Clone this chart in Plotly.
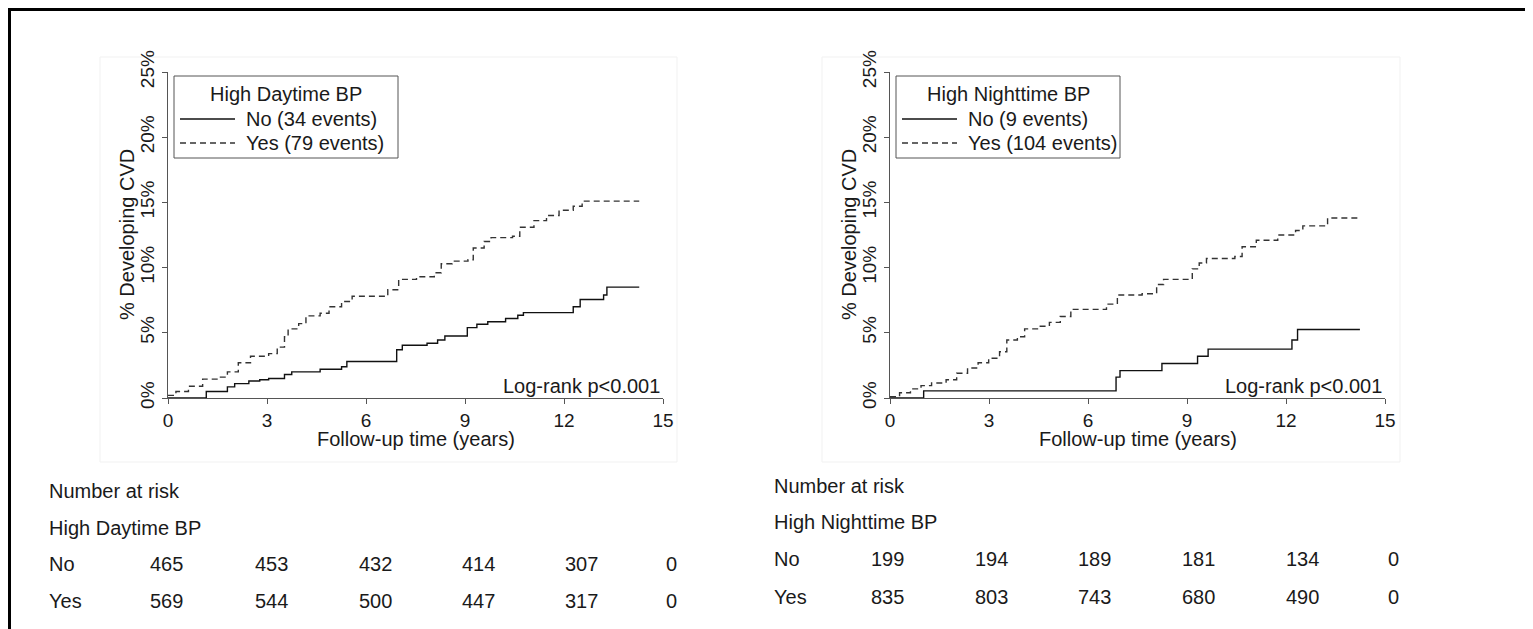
import plotly.graph_objects as go

W, H = 1533, 629
OFF = 8  # page body margin of the rendered html
FONT = "Liberation Sans, Arial, sans-serif"
TXT = "#1a1a1a"
AX = "#555555"

# ---------------- data ----------------
day_no_t = [0, 1.16, 1.80, 2.02, 2.45, 2.78, 3.05, 3.53, 3.75, 4.61, 5.26, 5.42, 6.93, 7.10, 7.85, 8.17, 8.39,
            9.07, 9.36, 9.69, 10.23, 10.60, 10.77, 12.28, 12.49, 13.20, 13.30, 14.28]
day_no_v = [0, 0.5, 0.85, 1.1, 1.3, 1.4, 1.5, 1.8, 2.0, 2.2, 2.4, 2.8, 3.7, 4.05, 4.2, 4.45, 4.75,
            5.4, 5.65, 5.85, 6.1, 6.35, 6.55, 7.0, 7.55, 7.9, 8.5, 8.5]

day_yes_t = [0, 0.24, 0.62, 1.05, 1.53, 1.80, 2.13, 2.50, 3.05, 3.31, 3.53, 3.64, 3.96, 4.18, 4.61, 4.88, 5.26,
             5.58, 6.66, 6.99, 7.53, 8.07, 8.28, 8.61, 9.09, 9.25, 9.58, 9.79, 10.44, 10.66, 11.09, 11.47,
             11.85, 12.28, 12.55, 14.28]
day_yes_v = [0.2, 0.5, 0.9, 1.45, 1.6, 2.0, 2.7, 3.2, 3.4, 3.9, 4.7, 5.3, 5.7, 6.3, 6.5, 7.0, 7.4,
             7.8, 8.3, 9.1, 9.3, 9.6, 10.3, 10.5, 10.6, 11.5, 12.0, 12.3, 12.4, 13.1, 13.6, 14.0,
             14.4, 14.7, 15.1, 15.1]

night_no_t = [0, 1.02, 6.85, 6.97, 8.24, 9.32, 9.64, 12.18, 12.35, 14.24]
night_no_v = [0, 0.55, 1.6, 2.1, 2.65, 3.2, 3.75, 4.45, 5.25, 5.25]

night_yes_t = [0, 0.29, 0.62, 0.94, 1.26, 1.70, 2.02, 2.35, 2.67, 2.99, 3.32, 3.54, 3.86, 4.08, 4.51, 4.83,
               5.16, 5.48, 6.56, 6.89, 7.64, 8.08, 8.29, 9.16, 9.37, 9.59, 10.45, 10.67, 11.10, 11.75,
               12.29, 12.51, 13.26, 14.24]
night_yes_v = [0.1, 0.4, 0.7, 0.95, 1.15, 1.4, 1.9, 2.3, 2.7, 3.05, 3.55, 4.45, 4.7, 5.3, 5.5, 5.8,
               6.25, 6.8, 7.2, 7.9, 8.0, 8.7, 9.1, 9.9, 10.35, 10.7, 10.85, 11.6, 12.1, 12.5,
               12.85, 13.2, 13.8, 13.8]

x_ticks = [0, 3, 6, 9, 12, 15]
y_ticks = [0, 5, 10, 15, 20, 25]
y_tick_text = ["0%", "5%", "10%", "15%", "20%", "25%"]

day_title = "High Daytime BP"
night_title = "High Nighttime BP"
day_names = ["No (34 events)", "Yes (79 events)"]
night_names = ["No (9 events)", "Yes (104 events)"]
pvalue_text = "Log-rank p<0.001"
x_title = "Follow-up time (years)"
y_title = "% Developing CVD"

risk_groups = ["No", "Yes"]
day_risk_no = [465, 453, 432, 414, 307, 0]
day_risk_yes = [569, 544, 500, 447, 317, 0]
night_risk_no = [199, 194, 189, 181, 134, 0]
night_risk_yes = [835, 803, 743, 680, 490, 0]

# ---------------- layout geometry (screen pixels) ----------------
def px(x):
    return (x - OFF) / W

def py(y):
    return 1 - (y - OFF) / H

L_X0, L_X1 = 168, 663
R_X0, R_X1 = 890, 1385
Y_TOP, Y_BOT = 72, 398
FS = 20
TICK_FS = 19

fig = go.Figure()

solid = dict(color="#111111", width=1.4)
dashed = dict(color="#333333", width=1.4, dash="6px,4px")

fig.add_trace(go.Scatter(x=day_no_t, y=day_no_v, mode="lines", line=dict(shape="hv", **solid),
                         name=day_names[0], xaxis="x", yaxis="y", hoverinfo="skip"))
fig.add_trace(go.Scatter(x=day_yes_t, y=day_yes_v, mode="lines", line=dict(shape="hv", **dashed),
                         name=day_names[1], xaxis="x", yaxis="y", hoverinfo="skip"))
fig.add_trace(go.Scatter(x=night_no_t, y=night_no_v, mode="lines", line=dict(shape="hv", **solid),
                         name=night_names[0], xaxis="x2", yaxis="y2", hoverinfo="skip"))
fig.add_trace(go.Scatter(x=night_yes_t, y=night_yes_v, mode="lines", line=dict(shape="hv", **dashed),
                         name=night_names[1], xaxis="x2", yaxis="y2", hoverinfo="skip"))

xaxis_common = dict(range=[0, 15], tickvals=x_ticks, ticks="outside", ticklen=5, tickcolor=AX,
                    showline=True, linecolor=AX, linewidth=1.2, showgrid=False, zeroline=False,
                    automargin=False,
                    tickfont=dict(size=TICK_FS, family=FONT, color=TXT), fixedrange=True)
yaxis_common = dict(range=[0, 25], tickvals=y_ticks, ticktext=y_tick_text, ticks="outside", ticklen=5,
                    tickcolor=AX, showline=True, linecolor=AX, linewidth=1.2, showgrid=False,
                    zeroline=False, tickangle=-90, automargin=False,
                    tickfont=dict(size=TICK_FS, family=FONT, color=TXT), fixedrange=True)

fig.update_layout(
    template="none",
    width=W, height=H,
    margin=dict(l=0, r=0, t=0, b=0, pad=0, autoexpand=False),
    paper_bgcolor="white", plot_bgcolor="rgba(0,0,0,0)",
    font=dict(family=FONT, color=TXT),
    xaxis=dict(domain=[px(L_X0), px(L_X1)], anchor="y", **xaxis_common),
    yaxis=dict(domain=[py(Y_BOT), py(Y_TOP)], anchor="x", **yaxis_common),
    xaxis2=dict(domain=[px(R_X0), px(R_X1)], anchor="y2", **xaxis_common),
    yaxis2=dict(domain=[py(Y_BOT), py(Y_TOP)], anchor="x2", **yaxis_common),
    showlegend=False,
)

ann = []
shapes = []


def text(t, x, y, xanchor="left", size=FS, angle=0):
    ann.append(dict(text=t, x=px(x), y=py(y), xref="paper", yref="paper", xanchor=xanchor,
                    yanchor="middle", showarrow=False, textangle=angle,
                    font=dict(size=size, family=FONT, color=TXT)))


# axis titles and p-values
for x0, x1 in [(L_X0, L_X1), (R_X0, R_X1)]:
    text(x_title, (x0 + x1) / 2, 439, "center")
    text(y_title, x0 - 41, (Y_TOP + Y_BOT) / 2, "center", angle=-90)
    text(pvalue_text, x1 - 1, 386, "right")


# legends drawn as boxes with sample lines
def legend_box(x0, title, names):
    x1 = x0 + 224
    shapes.append(dict(type="rect", xref="paper", yref="paper", x0=px(x0), x1=px(x1), y0=py(158), y1=py(76),
                       line=dict(color="#555555", width=1), fillcolor="white"))
    text(title, (x0 + x1) / 2, 94, "center")
    for i, (nm, st) in enumerate(zip(names, [solid, dashed])):
        yy = 119 + 24 * i
        shapes.append(dict(type="line", xref="paper", yref="paper", x0=px(x0 + 6), x1=px(x0 + 61),
                           y0=py(yy), y1=py(yy), line=st))
        text(nm, x0 + 70, yy, "left")


legend_box(174, day_title, day_names)
legend_box(896, night_title, night_names)


# number at risk tables
def risk_table(x_label, y_rows, title, cols_x, row_vals):
    text("Number at risk", x_label, y_rows[0])
    text(title, x_label, y_rows[1])
    for gi, (g, vals) in enumerate(zip(risk_groups, row_vals)):
        yy = y_rows[2 + gi]
        text(g, x_label, yy)
        for cxx, v in zip(cols_x, vals):
            text(str(v), cxx, yy)


risk_table(47, [491, 528, 564, 601], day_title, [148, 253, 357, 460, 563, 664], [day_risk_no, day_risk_yes])
risk_table(772, [486, 522, 559, 597], night_title, [869, 973, 1076, 1180, 1284, 1386], [night_risk_no, night_risk_yes])

shapes += [
    # faint plot-region boxes
    dict(type="rect", xref="paper", yref="paper", x0=px(100), x1=px(677), y0=py(462), y1=py(57),
         line=dict(color="#f1f1f1", width=1), layer="below"),
    dict(type="rect", xref="paper", yref="paper", x0=px(822), x1=px(1400), y0=py(462), y1=py(57),
         line=dict(color="#f1f1f1", width=1), layer="below"),
    # outer frame (top and left)
    dict(type="line", xref="paper", yref="paper", x0=px(9.5), x1=1, y0=py(9.5), y1=py(9.5),
         line=dict(color="black", width=3)),
    dict(type="line", xref="paper", yref="paper", x0=px(9.5), x1=px(9.5), y0=py(8), y1=0,
         line=dict(color="black", width=3)),
]

fig.update_layout(annotations=ann, shapes=shapes)

fig.write_html("out.html")
